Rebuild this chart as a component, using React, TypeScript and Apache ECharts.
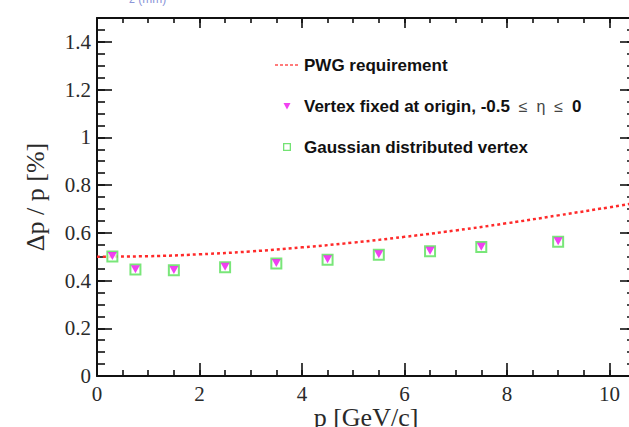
import React, { useEffect, useRef } from 'react';
import * as echarts from 'echarts';

// Data
const momentum = [0.3, 0.75, 1.5, 2.5, 3.5, 4.5, 5.5, 6.5, 7.5, 9.0];
const vertexFixed = [0.503, 0.447, 0.444, 0.458, 0.473, 0.489, 0.51, 0.525, 0.542, 0.565];
const gaussianVertex = [0.501, 0.446, 0.443, 0.456, 0.471, 0.487, 0.508, 0.523, 0.541, 0.563];
const pwgMomentum = [0, 1, 2, 3, 4, 5, 6, 7, 8, 9, 10, 10.5];
const pwgRequirement = [0.5, 0.502, 0.51, 0.522, 0.539, 0.559, 0.583, 0.61, 0.64, 0.673, 0.707, 0.725];
const xTickLabels = [0, 2, 4, 6, 8, 10];
const yTickLabels = [0, 0.2, 0.4, 0.6, 0.8, 1, 1.2, 1.4];

const X_MAX = 10.5;
const Y_MAX = 1.5;
const AXIS_COLOR = '#111';
const LABEL_COLOR = '#2a2a2a';
const SERIF = 'Liberation Serif';

const near = (list: number[], v: number) => list.some((t) => Math.abs(t - v) < 1e-6);

function xAxisDef(position: 'top' | 'bottom', interval: number, len: number, showLine: boolean, labels: boolean, extra: any = {}) {
  return {
    type: 'value',
    position,
    min: 0,
    max: X_MAX,
    interval,
    splitLine: { show: false },
    axisLine: { show: showLine, onZero: false, lineStyle: { color: AXIS_COLOR, width: 2 } },
    axisTick: { show: true, inside: true, length: len, lineStyle: { color: AXIS_COLOR, width: 1.6 } },
    axisLabel: labels
      ? {
          show: true,
          margin: 9,
          lineHeight: 17,
          fontFamily: SERIF,
          fontSize: 21,
          color: LABEL_COLOR,
          showMaxLabel: false,
          formatter: (v: number) => (near(xTickLabels, v) ? String(v) : ''),
        }
      : { show: false },
    ...extra,
  };
}

function yAxisDef(position: 'left' | 'right', interval: number, len: number, showLine: boolean, labels: boolean, extra: any = {}) {
  return {
    type: 'value',
    position,
    min: 0,
    max: Y_MAX,
    interval,
    splitLine: { show: false },
    axisLine: { show: showLine, onZero: false, lineStyle: { color: AXIS_COLOR, width: 2 } },
    axisTick: { show: true, inside: true, length: len, lineStyle: { color: AXIS_COLOR, width: 1.6 } },
    axisLabel: labels
      ? {
          show: true,
          margin: 6,
          fontFamily: SERIF,
          fontSize: 21,
          color: LABEL_COLOR,
          showMaxLabel: false,
          formatter: (v: number) => (near(yTickLabels, v) ? String(Math.round(v * 10) / 10) : ''),
        }
      : { show: false },
    ...extra,
  };
}

// legend icon shapes (padded with move-to points so they stay small)
const DOTTED_ICON =
  'path://M0,0 M24,10 M0,4.2 L3,4.2 L3,5.8 L0,5.8 Z M5,4.2 L8,4.2 L8,5.8 L5,5.8 Z M10,4.2 L13,4.2 L13,5.8 L10,5.8 Z M15,4.2 L18,4.2 L18,5.8 L15,5.8 Z M20,4.2 L23,4.2 L23,5.8 L20,5.8 Z';
const TRIANGLE_ICON = 'path://M0,0 M10,10 M1.5,2 L8.5,2 L5,8.5 Z';
const SQUARE_ICON = 'path://M0,0 M10,10 M1,1 L9,1 L9,9 L1,9 Z M2.3,2.3 L2.3,7.7 L7.7,7.7 L7.7,2.3 Z';

export default function App() {
  const ref = useRef<HTMLDivElement>(null);

  useEffect(() => {
    if (!ref.current) return;
    const chart = echarts.init(ref.current, undefined, { renderer: 'svg' });

    const option: any = {
      animation: false,
      backgroundColor: '#ffffff',
      grid: { left: 97, right: -6, top: 18, bottom: 51, containLabel: false, outerBoundsMode: 'none' },
      xAxis: [
        xAxisDef('bottom', 2, 13, true, true, {
          name: 'p [GeV/c]',
          nameLocation: 'middle',
          nameGap: 28,
          nameMoveOverlap: false,
          nameTextStyle: { fontFamily: SERIF, fontSize: 26, color: LABEL_COLOR },
        }),
        xAxisDef('bottom', 0.5, 6, false, false),
        xAxisDef('top', 2, 10, true, false),
        xAxisDef('top', 0.5, 5, false, false),
      ],
      yAxis: [
        yAxisDef('left', 0.2, 15, true, true, {
          name: 'Δp / p [%]',
          nameLocation: 'middle',
          nameGap: 49,
          nameMoveOverlap: false,
          nameTextStyle: { fontFamily: SERIF, fontSize: 26, color: LABEL_COLOR },
        }),
        yAxisDef('left', 0.05, 8, false, false),
        yAxisDef('right', 0.2, 15, true, false),
        yAxisDef('right', 0.05, 8, false, false),
      ],
      legend: {
        orient: 'vertical',
        left: 270,
        top: 50,
        itemWidth: 24,
        itemHeight: 10,
        itemGap: 21,
        data: [
          { name: 'PWG requirement', icon: DOTTED_ICON, itemStyle: { color: '#ff5050' } },
          { name: 'Vertex fixed at origin', icon: TRIANGLE_ICON, itemStyle: { color: '#ee10ee' } },
          { name: 'Gaussian distributed vertex', icon: SQUARE_ICON, itemStyle: { color: '#50dc50' } },
        ],
        formatter: (name: string) =>
          name === 'Vertex fixed at origin'
            ? '{b|Vertex fixed at origin, -0.5}{n|  ≤  η  ≤  }{b|0}'
            : '{b|' + name + '}',
        textStyle: {
          fontFamily: 'Liberation Sans',
          fontWeight: 'bold',
          fontSize: 17,
          color: '#111',
          lineHeight: 20,
          rich: {
            b: { fontFamily: 'Liberation Sans', fontWeight: 'bold', fontSize: 17, color: '#111', lineHeight: 20 },
            n: { fontFamily: 'Liberation Sans', fontWeight: 'normal', fontSize: 16, color: '#444', lineHeight: 20 },
          },
        },
      },
      graphic: [
        {
          type: 'text',
          left: 129,
          top: -7,
          style: { text: 'z (mm)', fontFamily: 'Liberation Sans', fontSize: 12, fill: '#8c96d8' },
        },
      ],
      series: [
        {
          name: 'PWG requirement',
          type: 'line',
          xAxisIndex: 0,
          yAxisIndex: 0,
          data: pwgMomentum.map((p, i) => [p, pwgRequirement[i]]),
          smooth: true,
          symbol: 'none',
          lineStyle: { color: '#ff2a2a', width: 2.5, type: [3, 3] },
          itemStyle: { color: '#ff2a2a' },
          z: 2,
        },
        {
          name: 'Gaussian distributed vertex',
          type: 'scatter',
          xAxisIndex: 0,
          yAxisIndex: 0,
          data: momentum.map((p, i) => [p, gaussianVertex[i]]),
          symbol: 'emptyRect',
          symbolSize: 10,
          itemStyle: { color: '#58e058', borderWidth: 1.3 },
          z: 3,
        },
        {
          name: 'Vertex fixed at origin',
          type: 'scatter',
          xAxisIndex: 0,
          yAxisIndex: 0,
          data: momentum.map((p, i) => [p, vertexFixed[i]]),
          symbol: 'path://M0,0 L10,0 L5,9 Z',
          symbolSize: [9, 8],
          itemStyle: { color: '#ee10ee' },
          z: 4,
        },
      ],
    };

    chart.setOption(option);
    return () => chart.dispose();
  }, []);

  return (
    <div
      ref={ref}
      style={{ position: 'fixed', left: 0, top: 0, width: 629, height: 427, background: '#fff' }}
    />
  );
}
